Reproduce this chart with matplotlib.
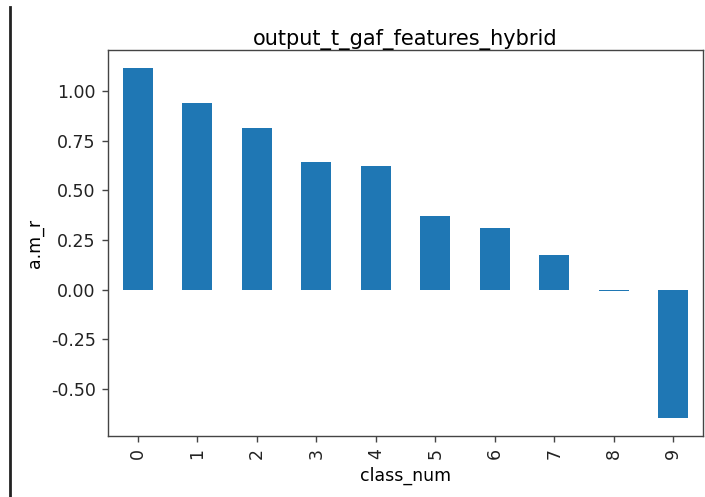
import matplotlib
matplotlib.use('Agg')
import matplotlib.pyplot as plt
from matplotlib.lines import Line2D
import pandas as pd

plt.rcParams['axes.unicode_minus'] = False

# class numbers and their a.m_r values
class_num = [0, 1, 2, 3, 4, 5, 6, 7, 8, 9]
am_r = [1.119, 0.941, 0.814, 0.642, 0.625, 0.372, 0.308, 0.172, -0.005, -0.650]

df = pd.DataFrame({'class_num': class_num, 'a.m_r': am_r}).set_index('class_num')

# 705x497 px at dpi 125 so default font sizes come out like the screenshot
fig = plt.figure(figsize=(5.64, 3.976), dpi=125)
ax = fig.add_axes([0.1532, 0.1227, 0.844, 0.7767])

df['a.m_r'].plot(kind='bar', ax=ax, color='#1f77b4')

ax.set_title('output_t_gaf_features_hybrid', pad=2.5)
ax.set_xlabel('class_num')
ax.set_ylabel('a.m_r')
for spine in ax.spines.values():
    spine.set_color('#444444')
ax.tick_params(color='#444444', labelcolor='#222222')

# the dark line at the left edge of the screenshot
fig.add_artist(Line2D([0.0142, 0.0142], [0.0, 0.985], color='#222222', linewidth=1.6))

fig.savefig('out.png', dpi=125)
